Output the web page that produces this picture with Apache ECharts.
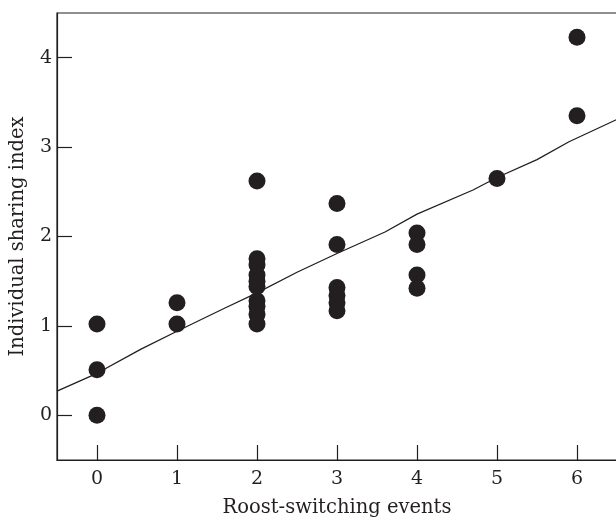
<!DOCTYPE html>
<html>
<head>
<meta charset="utf-8">
<script src="https://cdn.jsdelivr.net/npm/echarts@6/dist/echarts.min.js"></script>
<style>html,body{margin:0;padding:0;background:#fff;}#chart{width:616px;height:520px;}</style>
</head>
<body>
<div id="chart"></div>
<script>
// Scatter points: roost-switching events (x) and individual sharing index (y)
var pointX = [0, 0, 0,
              1, 1,
              2, 2, 2, 2, 2, 2, 2, 2, 2, 2,
              3, 3, 3, 3, 3, 3,
              4, 4, 4, 4,
              5,
              6, 6];
var pointY = [1.02, 0.51, 0.0,
              1.26, 1.02,
              2.62, 1.75, 1.68, 1.57, 1.50, 1.44, 1.28, 1.22, 1.13, 1.02,
              2.37, 1.91, 1.43, 1.34, 1.26, 1.17,
              2.04, 1.91, 1.57, 1.42,
              2.65,
              4.23, 3.35];
// Fitted line
var lineX = [-0.5, 0, 0.55, 1, 1.6, 2, 2.5, 3, 3.6, 4, 4.7, 5, 5.5, 5.9, 6.5];
var lineY = [0.27, 0.47, 0.74, 0.94, 1.20, 1.37, 1.60, 1.81, 2.05, 2.25, 2.52, 2.66, 2.86, 3.06, 3.31];
// Tick labels
var xTicks = [0, 1, 2, 3, 4, 5, 6];
var yTicks = [0, 1, 2, 3, 4];
var xTitle = 'Roost-switching events';
var yTitle = 'Individual sharing index';

var ink = '#231f20';
var font = '"DejaVu Serif", "Liberation Serif", serif';

var scatterData = pointX.map(function (x, i) { return [x, pointY[i]]; });
var lineData = lineX.map(function (x, i) { return [x, lineY[i]]; });

var chart = echarts.init(document.getElementById('chart'), null, {renderer: 'canvas'});
chart.setOption({
  animation: false,
  backgroundColor: '#fff',
  grid: {
    left: 57, right: -1, top: 13, bottom: 60,
    containLabel: false, outerBoundsMode: 'none',
    show: true, borderColor: ink, borderWidth: 1.2, backgroundColor: 'transparent'
  },
  xAxis: {
    type: 'value', min: -0.5, max: 6.5,
    name: xTitle, nameLocation: 'middle', nameGap: 38,
    nameTextStyle: {fontFamily: font, fontSize: 19.5, color: ink},
    axisLine: {show: true, onZero: false, lineStyle: {color: ink, width: 1.2}},
    axisTick: {show: true, inside: true, length: 15, customValues: xTicks, lineStyle: {color: ink, width: 1.2}},
    axisLabel: {customValues: xTicks, margin: 10, fontFamily: font, fontSize: 19, color: ink},
    splitLine: {show: false}
  },
  yAxis: {
    type: 'value', min: -0.5, max: 4.5,
    name: yTitle, nameLocation: 'middle', nameGap: 29,
    nameTextStyle: {fontFamily: font, fontSize: 19.5, color: ink},
    axisLine: {show: true, onZero: false, lineStyle: {color: ink, width: 1.2}},
    axisTick: {show: true, inside: true, length: 15, customValues: yTicks, lineStyle: {color: ink, width: 1.2}},
    axisLabel: {customValues: yTicks, margin: 5, fontFamily: font, fontSize: 19, color: ink},
    splitLine: {show: false}
  },
  series: [
    {
      type: 'line', data: lineData, showSymbol: false, symbol: 'none',
      lineStyle: {color: ink, width: 1.3}, z: 2
    },
    {
      type: 'scatter', data: scatterData, symbol: 'circle', symbolSize: 17,
      itemStyle: {color: ink, opacity: 1}, z: 3
    }
  ]
});
</script>
</body>
</html>
